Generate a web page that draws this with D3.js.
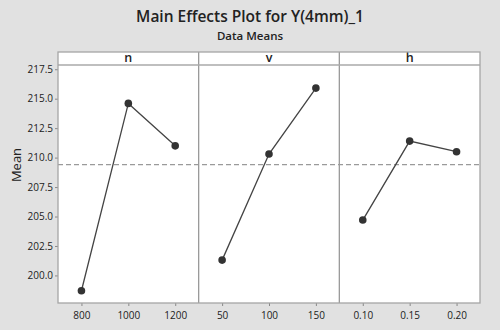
<!DOCTYPE html>
<html><head><meta charset="utf-8">
<script src="https://cdn.jsdelivr.net/npm/d3@7"></script>
<style>body{margin:0;background:#e1e1e1;}svg{display:block;}</style>
</head><body>
<script>
const factors = ["n", "v", "h"];
const nLevels = ["800", "1000", "1200"];
const vLevels = ["50", "100", "150"];
const hLevels = ["0.10", "0.15", "0.20"];
const nMeans = [198.7, 214.6, 211.0];
const vMeans = [201.3, 210.3, 215.9];
const hMeans = [204.7, 211.4, 210.5];
const grandMean = 209.4;
const yTicks = [200.0, 202.5, 205.0, 207.5, 210.0, 212.5, 215.0, 217.5];

const levels = [nLevels, vLevels, hLevels];
const means = [nMeans, vMeans, hMeans];

const W = 500, H = 330;
const pLeft = 58, pRight = 480, pTop = 52, stripB = 65, pBottom = 303;
const font = "'Open Sans', sans-serif";

const svg = d3.select("body").append("svg").attr("width", W).attr("height", H);
svg.append("rect").attr("width", W).attr("height", H).attr("fill", "#e1e1e1");

svg.append("text").attr("x", 250).attr("y", 22).attr("text-anchor", "middle")
  .attr("font-family", font).attr("font-size", 15.5).attr("font-weight", 600).attr("fill", "#222")
  .text("Main Effects Plot for Y(4mm)_1");
svg.append("text").attr("x", 250).attr("y", 39.5).attr("text-anchor", "middle")
  .attr("font-family", font).attr("font-size", 11.5).attr("font-weight", 600).attr("fill", "#222")
  .text("Data Means");

const y = d3.scaleLinear().domain([197.66, 217.86]).range([pBottom, stripB]);
const panel = d3.scaleBand().domain(factors).range([pLeft, pRight]);

svg.append("rect").attr("x", pLeft).attr("y", pTop).attr("width", pRight - pLeft).attr("height", pBottom - pTop)
  .attr("fill", "#fff");

const yAxis = svg.append("g").attr("transform", `translate(${pLeft},0)`)
  .call(d3.axisLeft(y).tickValues(yTicks).tickFormat(d3.format(".1f")).tickSize(3));
yAxis.select(".domain").remove();
yAxis.selectAll("line").attr("stroke", "#888");
yAxis.selectAll("text").attr("font-family", font).attr("font-size", 10).attr("fill", "#222").attr("dx", "1");

svg.append("text").attr("transform", `translate(21,165) rotate(-90)`).attr("text-anchor", "middle")
  .attr("font-family", font).attr("font-size", 13).attr("fill", "#222").text("Mean");

svg.append("line").attr("x1", pLeft).attr("x2", pRight).attr("y1", y(grandMean)).attr("y2", y(grandMean))
  .attr("stroke", "#9a9a9a").attr("stroke-width", 1.2).attr("stroke-dasharray", "5,3");

factors.forEach((f, i) => {
  const x0 = panel(f), bw = panel.bandwidth();
  const x = d3.scalePoint().domain(levels[i]).range([x0, x0 + bw]).padding(0.5);
  const g = svg.append("g");
  const xa = svg.append("g").attr("transform", `translate(0,${pBottom})`)
    .call(d3.axisBottom(x).tickSize(3));
  xa.select(".domain").remove();
  xa.selectAll("line").attr("stroke", "#888");
  xa.selectAll("text").attr("font-family", font).attr("font-size", 10).attr("fill", "#222").attr("dy", "0.95em");
  const pts = levels[i].map((l, j) => [x(l), y(means[i][j])]);
  g.append("path").attr("d", d3.line()(pts)).attr("fill", "none").attr("stroke", "#444").attr("stroke-width", 1.3);
  g.selectAll("circle").data(pts).join("circle").attr("cx", d => d[0]).attr("cy", d => d[1]).attr("r", 3.8)
    .attr("fill", "#333");
  svg.append("text").attr("x", x0 + bw / 2).attr("y", 62).attr("text-anchor", "middle")
    .attr("font-family", font).attr("font-size", 12.5).attr("font-weight", 600).attr("fill", "#222").text(f);
  if (i > 0) svg.append("line").attr("x1", x0).attr("x2", x0).attr("y1", pTop).attr("y2", pBottom)
    .attr("stroke", "#999").attr("stroke-width", 1.3);
});

svg.append("line").attr("x1", pLeft).attr("x2", pRight).attr("y1", stripB).attr("y2", stripB)
  .attr("stroke", "#aaa").attr("stroke-width", 1.5);
svg.append("rect").attr("x", pLeft).attr("y", pTop).attr("width", pRight - pLeft).attr("height", pBottom - pTop)
  .attr("fill", "none").attr("stroke", "#a5a5a5").attr("stroke-width", 1.3);
</script>
</body></html>
